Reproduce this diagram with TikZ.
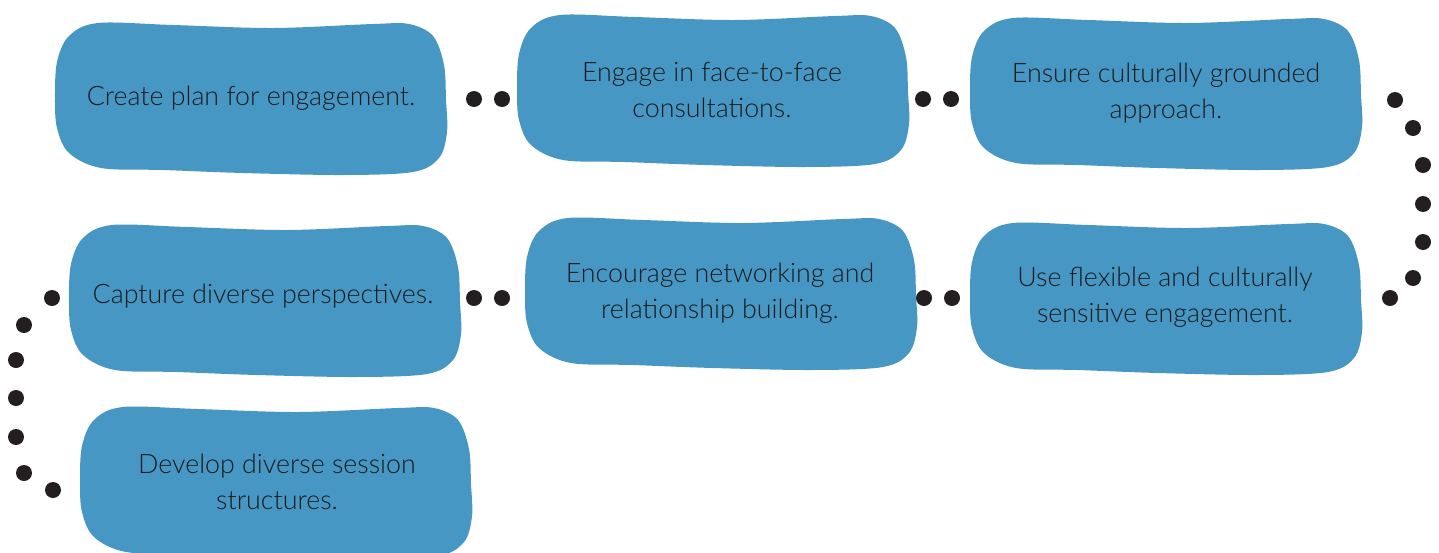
\documentclass[tikz,border=0pt]{standalone}
\usepackage{fontspec}
\IfFontExistsTF{Lato Light}{\setmainfont{Lato Light}}{\setmainfont{Lato}}
\usepackage{tikz}

\definecolor{blobblue}{RGB}{70,151,196}
\definecolor{dotblack}{RGB}{35,31,32}
\definecolor{inkblack}{RGB}{26,26,26}

\tikzset{
	pics/blob/.style={code={
		\fill[blobblue] plot[smooth cycle, tension=.55] coordinates {
			(2,78) (4,42) (16,16) (45,3) (120,5) (220,8) (320,4) (356,4)
			(380,16) (391,45) (393,80) (394,112) (386,138) (360,152)
			(290,155) (190,153) (110,150) (48,148) (16,133) (4,108)};
	}},
	steptext/.style={text=inkblack, align=center, inner sep=0pt,
		font=\fontsize{26.8}{36}\selectfont},
}

\begin{document}
\begin{tikzpicture}[x=1pt, y=-1pt]
			\def \dotr{ 8pt };
			\useasboundingbox (0,0) rectangle (1439,552);
			% blobs
			\pic at (53,20) {blob};
			\pic at (515,12) {blob};
			\pic at (968,15) {blob};
			\pic at (67,222) {blob};
			\pic at (523,215) {blob};
			\pic at (968,220) {blob};
			\pic at (78,404) {blob};
			% steps
			\node[steptext] (plan) at (251,98) {Create plan for engagement.};
			\node[steptext] (consult) at (712,90) {Engage in face-to-face\\consultations.};
			\node[steptext] (ground) at (1166,93) {Ensure culturally grounded\\approach.};
			\node[steptext] (flex) at (1165,297) {Use flexible and culturally\\sensitive engagement.};
			\node[steptext] (network) at (720,293) {Encourage networking and\\relationship building.};
			\node[steptext] (capture) at (263,296) {Capture diverse perspectives.};
			\node[steptext] (develop) at (277,482) {Develop diverse session\\structures.};
			% dots between steps
			\coordinate (a1) at (474,99);
			\coordinate (a2) at (502,99);
			\coordinate (b1) at (923,99);
			\coordinate (b2) at (951,99);
			\coordinate (c1) at (1395,100);
			\coordinate (c2) at (1413,128);
			\coordinate (c3) at (1423,165);
			\coordinate (c4) at (1423,204);
			\coordinate (c5) at (1423,242);
			\coordinate (c6) at (1413,278);
			\coordinate (c7) at (1390,298);
			\coordinate (d1) at (924,298);
			\coordinate (d2) at (952,298);
			\coordinate (e1) at (474,298);
			\coordinate (e2) at (502,298);
			\coordinate (f1) at (52,298);
			\coordinate (f2) at (24,325);
			\coordinate (f3) at (16,360);
			\coordinate (f4) at (16,398);
			\coordinate (f5) at (16,437);
			\coordinate (f6) at (24,473);
			\coordinate (f7) at (53,490);
			\fill[dotblack] (a1) circle (\dotr);
			\fill[dotblack] (a2) circle (\dotr);
			\fill[dotblack] (b1) circle (\dotr);
			\fill[dotblack] (b2) circle (\dotr);
			\fill[dotblack] (c1) circle (\dotr);
			\fill[dotblack] (c2) circle (\dotr);
			\fill[dotblack] (c3) circle (\dotr);
			\fill[dotblack] (c4) circle (\dotr);
			\fill[dotblack] (c5) circle (\dotr);
			\fill[dotblack] (c6) circle (\dotr);
			\fill[dotblack] (c7) circle (\dotr);
			\fill[dotblack] (d1) circle (\dotr);
			\fill[dotblack] (d2) circle (\dotr);
			\fill[dotblack] (e1) circle (\dotr);
			\fill[dotblack] (e2) circle (\dotr);
			\fill[dotblack] (f1) circle (\dotr);
			\fill[dotblack] (f2) circle (\dotr);
			\fill[dotblack] (f3) circle (\dotr);
			\fill[dotblack] (f4) circle (\dotr);
			\fill[dotblack] (f5) circle (\dotr);
			\fill[dotblack] (f6) circle (\dotr);
			\fill[dotblack] (f7) circle (\dotr);
		\end{tikzpicture}
\end{document}
